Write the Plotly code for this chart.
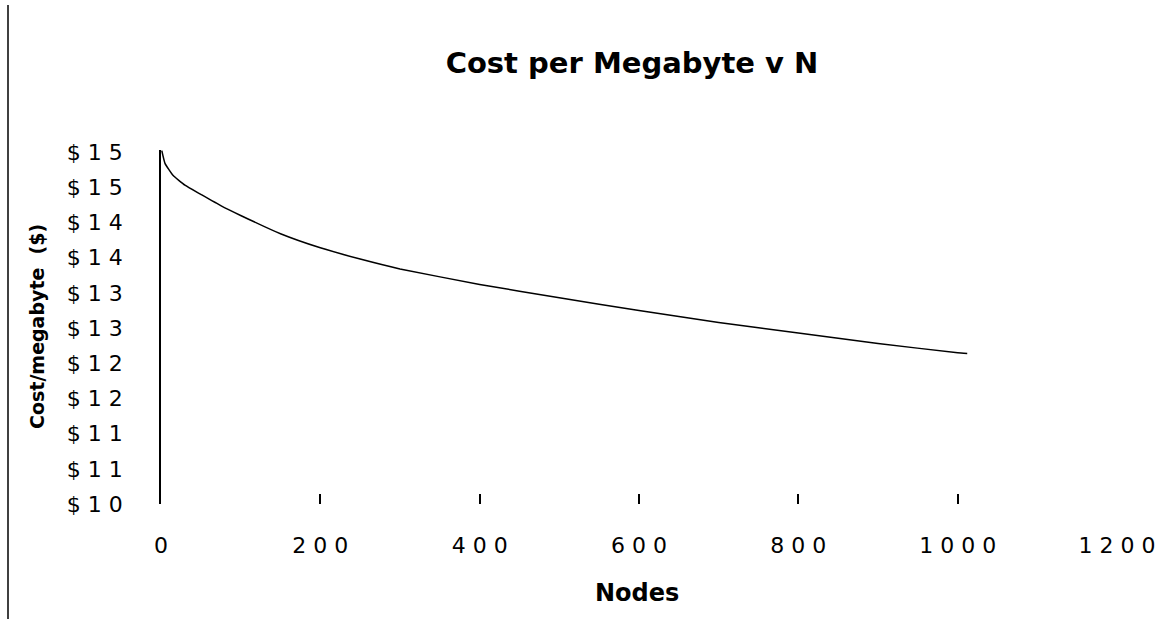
import plotly.graph_objects as go

# ---- data ----
nodes = [1, 5, 15, 30, 50, 75, 100, 150, 200, 250, 300, 400, 500, 600, 700, 800, 900, 1000, 1012]
cost_per_mb = [15.02, 14.84, 14.67, 14.53, 14.40, 14.24, 14.10, 13.84, 13.64, 13.48, 13.34,
               13.12, 12.93, 12.75, 12.58, 12.43, 12.28, 12.15, 12.14]

y_tick_vals = [10, 10.5, 11, 11.5, 12, 12.5, 13, 13.5, 14, 14.5, 15]
y_tick_text = ["$10", "$11", "$11", "$12", "$12", "$13", "$13", "$14", "$14", "$15", "$15"]
x_tick_vals = [0, 200, 400, 600, 800, 1000, 1200]
x_tick_text = ["0", "200", "400", "600", "800", "1000", "1200"]

title_text = "Cost per Megabyte v N"
x_title = "Nodes"
y_title = "Cost/megabyte \u00a0($)"


def spaced(s):
    return " ".join(list(s))


FONT = "DejaVu Sans"
W, H = 1169, 621
L, R, T, B = 161, 52, 150, 117

fig = go.Figure()
fig.add_trace(go.Scatter(
    x=nodes, y=cost_per_mb, mode="lines",
    line=dict(color="black", width=1.5, shape="spline", smoothing=0.4),
    showlegend=False, hoverinfo="x+y",
))

fig.update_layout(
    width=W, height=H,
    margin=dict(l=L, r=R, t=T, b=B, pad=0),
    paper_bgcolor="white", plot_bgcolor="white",
    font=dict(family=FONT, color="black"),
    title=dict(
        text="<b>" + title_text + "</b>",
        font=dict(family=FONT, size=29, color="black"),
        x=632 / W, xanchor="center", xref="container",
        y=1 - 63 / H, yanchor="middle", yref="container",
    ),
    xaxis=dict(
        range=[0, 1200], showgrid=False, zeroline=False, showline=False,
        tickmode="array", tickvals=x_tick_vals,
        ticktext=[spaced(t) for t in x_tick_text],
        ticks="inside", ticklen=10, tickwidth=1.5, tickcolor="black",
        tickfont=dict(family=FONT, size=22, color="black"),
        ticklabelstandoff=26,
    ),
    yaxis=dict(
        range=[10, 15.03], showgrid=False, zeroline=False,
        showline=True, linecolor="black", linewidth=1.5,
        tickmode="array", tickvals=y_tick_vals,
        ticktext=[spaced(t) for t in y_tick_text],
        ticks="", tickfont=dict(family=FONT, size=22, color="black"),
        ticklabelstandoff=32,
    ),
    annotations=[
        dict(text="<b>" + x_title + "</b>", xref="paper", yref="paper",
             x=(637 - L) / (W - L - R), y=-(593 - (H - B)) / (H - T - B),
             xanchor="center", yanchor="middle", showarrow=False,
             font=dict(family=FONT, size=24, color="black")),
        dict(text="<b>" + y_title + "</b>", xref="paper", yref="paper",
             x=(37 - L) / (W - L - R), y=0.5, textangle=-90,
             xanchor="center", yanchor="middle", showarrow=False,
             font=dict(family=FONT, size=19, color="black")),
    ],
    shapes=[
        dict(type="line", xref="paper", yref="paper",
             x0=(8 - L) / (W - L - R), x1=(8 - L) / (W - L - R),
             y0=-(B - 2) / (H - T - B), y1=1 + (T - 5) / (H - T - B),
             line=dict(color="black", width=1.5)),
    ],
)

fig.write_html("out.html")
